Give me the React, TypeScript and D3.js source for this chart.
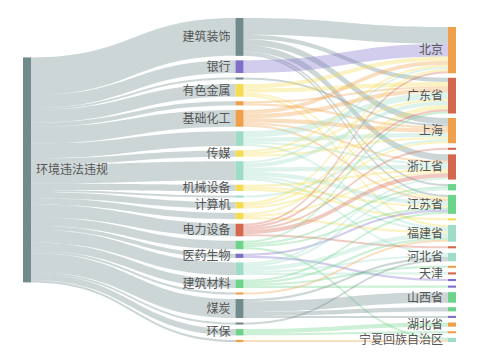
import React from "react";
import * as d3 from "d3";

const width = 480;
const height = 360;

const rootName = "环境违法违规";

// middle column, top to bottom. mN / pN are nodes that show no label
const industries = [
    "建筑装饰", "银行", "m3", "有色金属", "m5", "基础化工", "m7", "传媒", "m9",
    "机械设备", "m11", "计算机", "m12", "电力设备", "m14", "医药生物", "m16", "建筑材料",
    "m18", "煤炭", "m20", "环保", "m22",
];

// right column, top to bottom
const provinces = [
    "北京", "广东省", "上海", "p4", "浙江省", "p6", "江苏省", "p8", "福建省", "p10",
    "河北省", "p12", "天津", "p14", "p15", "山西省", "p17", "p18", "湖北省", "p20",
    "宁夏回族自治区",
];

// industry -> province counts
const flows: [string, string, number][] = [
    ["建筑装饰", "北京", 8], ["建筑装饰", "广东省", 2], ["建筑装饰", "上海", 3],
    ["建筑装饰", "浙江省", 3], ["建筑装饰", "p6", 1], ["建筑装饰", "江苏省", 1],
    ["银行", "北京", 6],
    ["m3", "上海", 1],
    ["有色金属", "北京", 2], ["有色金属", "广东省", 2], ["有色金属", "江苏省", 1], ["有色金属", "福建省", 1],
    ["m5", "广东省", 1], ["m5", "上海", 1],
    ["基础化工", "北京", 2], ["基础化工", "广东省", 2], ["基础化工", "上海", 2],
    ["基础化工", "浙江省", 1], ["基础化工", "江苏省", 1],
    ["m7", "广东省", 3], ["m7", "上海", 2], ["m7", "浙江省", 1], ["m7", "福建省", 1],
    ["传媒", "北京", 1], ["传媒", "广东省", 1], ["传媒", "上海", 1],
    ["m9", "北京", 1], ["m9", "广东省", 2], ["m9", "浙江省", 2], ["m9", "江苏省", 2],
    ["m9", "福建省", 1], ["m9", "河北省", 1],
    ["机械设备", "浙江省", 1], ["机械设备", "江苏省", 1], ["机械设备", "p8", 1],
    ["m11", "上海", 1],
    ["计算机", "北京", 1], ["计算机", "广东省", 1], ["计算机", "上海", 1],
    ["m12", "广东省", 1], ["m12", "浙江省", 1], ["m12", "福建省", 1],
    ["电力设备", "北京", 1], ["电力设备", "广东省", 1], ["电力设备", "p4", 1],
    ["电力设备", "浙江省", 2], ["电力设备", "p10", 1],
    ["m14", "广东省", 1], ["m14", "p6", 1], ["m14", "江苏省", 1], ["m14", "宁夏回族自治区", 1],
    ["医药生物", "江苏省", 1], ["医药生物", "p14", 1],
    ["m16", "浙江省", 1], ["m16", "p6", 1], ["m16", "福建省", 2], ["m16", "河北省", 1], ["m16", "天津", 1],
    ["建筑材料", "江苏省", 1], ["建筑材料", "福建省", 1], ["建筑材料", "p12", 1], ["建筑材料", "p15", 1],
    ["m18", "福建省", 1],
    ["煤炭", "河北省", 1], ["煤炭", "山西省", 5], ["煤炭", "p17", 2], ["煤炭", "p18", 1],
    ["m20", "河北省", 1],
    ["环保", "湖北省", 2], ["环保", "p20", 1],
    ["m22", "宁夏回族自治区", 1],
];

const GRAY = "#718a8c";
const PURPLE = "#7e70c8";
const YELLOW = "#f3dc52";
const ORANGE = "#f0a04b";
const MINT = "#9fdcc7";
const GREEN = "#6cd38a";
const RED = "#d4684f";

const nodeColor: Record<string, string> = {
    [rootName]: GRAY,
    建筑装饰: GRAY, 银行: PURPLE, m3: GRAY, 有色金属: YELLOW, m5: ORANGE, 基础化工: ORANGE,
    m7: MINT, 传媒: YELLOW, m9: MINT, 机械设备: YELLOW, m11: MINT, 计算机: YELLOW, m12: YELLOW,
    电力设备: RED, m14: GREEN, 医药生物: PURPLE, m16: MINT, 建筑材料: GREEN, m18: ORANGE,
    煤炭: GRAY, m20: GRAY, 环保: GREEN, m22: ORANGE,
    北京: ORANGE, 广东省: RED, 上海: ORANGE, p4: RED, 浙江省: RED, p6: GREEN, 江苏省: GREEN,
    p8: YELLOW, 福建省: MINT, p10: RED, 河北省: MINT, p12: ORANGE, 天津: RED, p14: PURPLE,
    p15: PURPLE, 山西省: GREEN, p17: GREEN, p18: PURPLE, 湖北省: ORANGE, p20: ORANGE,
    宁夏回族自治区: MINT,
};

const showLabel = (name: string) => !/^[mp]\d+$/.test(name);

type SNode = { name: string; depth: number; x: number; y0: number; y1: number; out: SLink[]; inc: SLink[] };
type SLink = { source: SNode; target: SNode; value: number; sy: number; ty: number };

export default function App() {
    const margin = { top: 18, right: 24, bottom: 18, left: 23 };
    const nodeWidth = 8;
    const nodeGap = 4.5;
    const innerH = height - margin.top - margin.bottom;

    const outSum = d3.rollup(flows, (v) => d3.sum(v, (d) => d[2]), (d) => d[0]);
    const inSum = d3.rollup(flows, (v) => d3.sum(v, (d) => d[2]), (d) => d[1]);
    const total = d3.sum(flows, (d) => d[2]);

    const value = new Map<string, number>();
    value.set(rootName, total);
    industries.forEach((n) => value.set(n, outSum.get(n) ?? 0));
    provinces.forEach((n) => value.set(n, inSum.get(n) ?? 0));

    const columns = [[rootName], industries, provinces];
    const ky = d3.min(columns, (col) => (innerH - (col.length - 1) * nodeGap) / d3.sum(col, (n) => value.get(n)!))!;
    const xScale = d3.scaleLinear().domain([0, 2]).range([margin.left, width - margin.right - nodeWidth]);

    // stack every column from 0
    const nodes = new Map<string, SNode>();
    columns.forEach((col, depth) => {
        let y = 0;
        col.forEach((name) => {
            const h = value.get(name)! * ky;
            nodes.set(name, { name, depth, x: xScale(depth), y0: y, y1: y + h, out: [], inc: [] });
            y += h + nodeGap;
        });
    });

    const links: SLink[] = [
        ...industries.map((n) => ({ source: nodes.get(rootName)!, target: nodes.get(n)!, value: value.get(n)!, sy: 0, ty: 0 })),
        ...flows.map(([s, t, v]) => ({ source: nodes.get(s)!, target: nodes.get(t)!, value: v, sy: 0, ty: 0 })),
    ];
    links.forEach((l) => {
        l.source.out.push(l);
        l.target.inc.push(l);
    });

    const moveColumn = (col: string[], dy: number) => col.forEach((n) => {
        const nd = nodes.get(n)!;
        nd.y0 += dy;
        nd.y1 += dy;
    });

    // middle column fills the height, so it sits at the top
    moveColumn(industries, margin.top);

    // other columns move toward the weighted centre of their linked nodes
    const settle = (col: string[]) => {
        const span = nodes.get(col[col.length - 1])!.y1;
        let num = 0, den = 0;
        col.forEach((n) => {
            const nd = nodes.get(n)!;
            const c = (nd.y0 + nd.y1) / 2;
            nd.out.forEach((l) => {
                num += l.value * ((l.target.y0 + l.target.y1) / 2 - c);
                den += l.value;
            });
            nd.inc.forEach((l) => {
                num += l.value * ((l.source.y0 + l.source.y1) / 2 - c);
                den += l.value;
            });
        });
        const dy = Math.max(margin.top, Math.min(height - margin.bottom - span, num / den));
        moveColumn(col, dy);
    };
    settle([rootName]);
    settle(provinces);

    nodes.forEach((nd) => {
        let y = nd.y0;
        [...nd.out].sort((a, b) => a.target.y0 - b.target.y0).forEach((l) => {
            l.sy = y;
            y += l.value * ky;
        });
        y = nd.y0;
        [...nd.inc].sort((a, b) => a.source.y0 - b.source.y0).forEach((l) => {
            l.ty = y;
            y += l.value * ky;
        });
    });

    const linkPath = (l: SLink) => {
        const x0 = l.source.x + nodeWidth;
        const x1 = l.target.x;
        const xm = (x0 + x1) / 2;
        const w = l.value * ky;
        const p = d3.path();
        p.moveTo(x0, l.sy);
        p.bezierCurveTo(xm, l.sy, xm, l.ty, x1, l.ty);
        p.lineTo(x1, l.ty + w);
        p.bezierCurveTo(xm, l.ty + w, xm, l.sy + w, x0, l.sy + w);
        p.closePath();
        return p.toString();
    };

    const allNodes = [...nodes.values()];

    return (
        <svg
            width={width}
            height={height}
            style={{ position: "absolute", left: 0, top: 0, background: "#fff" }}
            fontFamily="'Noto Sans CJK SC', 'Noto Sans', sans-serif"
        >
            <g>
                {links.map((l, i) => (
                    <path key={i} d={linkPath(l)} fill={nodeColor[l.source.name]} fillOpacity={0.35} />
                ))}
            </g>
            <g>
                {allNodes.map((nd) => (
                    <rect
                        key={nd.name}
                        x={nd.x}
                        y={nd.y0}
                        width={nodeWidth}
                        height={Math.max(1, nd.y1 - nd.y0)}
                        fill={nodeColor[nd.name]}
                    />
                ))}
            </g>
            <g fontSize={12} fill="#555">
                {allNodes.filter((nd) => showLabel(nd.name)).map((nd) => (
                    <text
                        key={nd.name}
                        x={nd.depth === 0 ? nd.x + nodeWidth + 5 : nd.x - 5}
                        y={(nd.y0 + nd.y1) / 2}
                        dy="0.35em"
                        textAnchor={nd.depth === 0 ? "start" : "end"}
                    >
                        {nd.name}
                    </text>
                ))}
            </g>
        </svg>
    );
}
